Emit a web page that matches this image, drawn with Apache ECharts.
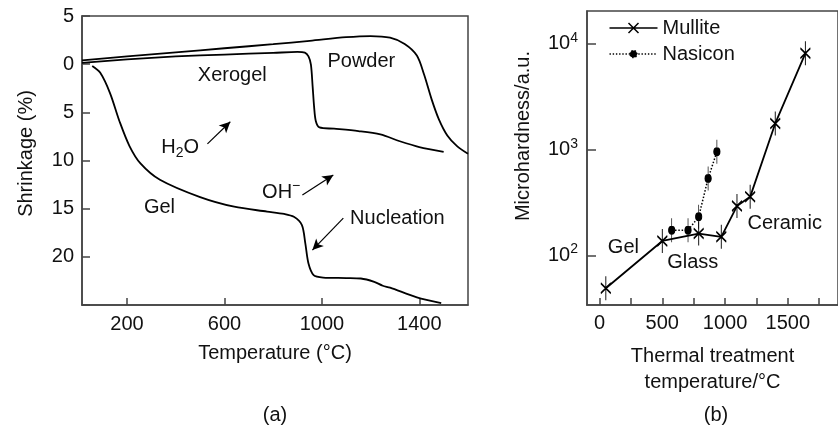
<!DOCTYPE html>
<html>
<head>
<meta charset="utf-8">
<script src="https://cdn.jsdelivr.net/npm/echarts@6/dist/echarts.min.js"></script>
<style>
  html, body { margin: 0; padding: 0; background: #fff; }
  #chart { width: 838px; height: 428px; }
</style>
</head>
<body>
<div id="chart"></div>
<script>
// (a) shrinkage curves, temperature in °C, shrinkage in % (negative = expansion)
const powderTemp = [15, 200, 400, 600, 800, 950, 1100, 1200, 1280, 1340, 1390, 1420, 1450, 1480, 1515, 1555, 1600];
const powderShrink = [-0.4, -0.8, -1.22, -1.65, -2.07, -2.42, -2.8, -2.92, -2.75, -2.1, -0.9, 1.1, 3.6, 5.7, 7.4, 8.5, 9.3];
const xerogelTemp = [15, 200, 400, 600, 800, 900, 930, 945, 955, 962, 968, 975, 990, 1050, 1150, 1240, 1320, 1400, 1500];
const xerogelShrink = [-0.13, -0.5, -0.8, -1.0, -1.17, -1.27, -1.2, -0.8, 0.05, 2.3, 4.4, 5.9, 6.57, 6.7, 6.95, 7.3, 8.0, 8.6, 9.1];
const gelTemp = [57, 90, 130, 170, 210, 255, 335, 500, 640, 775, 845, 885, 918, 932, 945, 966, 1005, 1100, 1160, 1215, 1250, 1280, 1390, 1490];
const gelShrink = [0.2, 0.9, 3.0, 6.0, 8.5, 10.3, 12.0, 13.8, 14.8, 15.3, 15.55, 15.85, 16.7, 18.6, 20.7, 21.9, 22.15, 22.2, 22.25, 22.6, 23.0, 23.2, 24.2, 24.8];
const shrinkTicks = [200, 600, 1000, 1400];

// (b) microhardness, thermal treatment temperature in °C
const mulliteTemp = [50, 500, 790, 970, 1095, 1200, 1400, 1640];
const mulliteHard = [49, 137, 161, 150, 293, 358, 1770, 8150];
const nasiconTemp = [575, 705, 790, 865, 935];
const nasiconHard = [173, 173, 232, 535, 955];
const hardLabels = [0, 500, 1000, 1500];
const hardTicks = [0, 250, 500, 750, 1000, 1250, 1500, 1750];

// annotations: text, x, y in data units
const shrinkNotes = [
  ["Xerogel", 632, 1.2], ["Powder", 1162, -0.3], ["H{sub|2}O", 418, 8.7],
  ["OH{sup|−}", 833, 13.3], ["Gel", 333, 14.9], ["Nucleation", 1310, 16.0]
];
const shrinkArrows = [
  [[530, 8.27], [624, 5.98]],
  [[920, 13.58], [1047, 11.5]],
  [[1088, 15.98], [961, 19.3]]
];
const hardNotes = [["Gel", 190, 120], ["Glass", 743, 86.5], ["Ceramic", 1475, 202]];

const zip = (xs, ys) => xs.map((x, i) => [x, ys[i]]);
const FONT = "'Liberation Sans', Arial, sans-serif";
const INK = "#111";
const FRAME = "#444";
const text = { fontFamily: FONT, fontSize: 20, color: INK };
const rich = {
  sub: { fontFamily: FONT, fontSize: 14, color: INK, padding: [10, 0, 0, 0] },
  sup: { fontFamily: FONT, fontSize: 14, color: INK, padding: [0, 0, 12, 0] }
};
const axisLine = { show: true, onZero: false, lineStyle: { color: FRAME, width: 1.5 } };
const tick = len => ({ show: true, inside: true, length: len, lineStyle: { color: FRAME, width: 1.5 } });

const notePoints = notes => ({
  silent: true,
  symbol: "circle",
  symbolSize: 0,
  label: { show: true, position: "inside", ...text, rich, formatter: p => p.name },
  data: notes.map(([name, x, y]) => ({ name, coord: [x, y] }))
});

const chart = echarts.init(document.getElementById("chart"));
chart.setOption({
  animation: false,
  textStyle: { fontFamily: FONT },
  grid: [
    { left: 82, top: 16, width: 386, height: 289, show: true, borderColor: FRAME, borderWidth: 1.5 },
    { left: 587, top: 11, width: 260, height: 294, show: true, borderColor: FRAME, borderWidth: 1.5 }
  ],
  legend: {
    left: 607, top: 18, padding: 0, orient: "vertical", align: "left",
    itemWidth: 48, itemHeight: 10, itemGap: 6, symbolKeepAspect: true,
    textStyle: text,
    data: [
      {
        name: "Mullite",
        icon: "path://M0,5L48,5M19,0L29,10M29,0L19,10",
        itemStyle: { color: "none", borderColor: "#000", borderWidth: 1.5 }
      },
      {
        name: "Nasicon",
        icon: "path://M0,5L48,5M20.5,5A3.5,3.5,0,1,1,27.5,5A3.5,3.5,0,1,1,20.5,5Z",
        itemStyle: { color: "#000", borderColor: "#000", borderWidth: 1.4, borderType: [1.4, 1.8] }
      }
    ]
  },
  xAxis: [
    {
      type: "value", gridIndex: 0, min: 15, max: 1600,
      name: "Temperature (°C)", nameLocation: "middle", nameGap: 38, nameTextStyle: text,
      axisLine, axisTick: { ...tick(7), customValues: shrinkTicks },
      axisLabel: { ...text, margin: 9, customValues: shrinkTicks, formatter: v => String(v) },
      splitLine: { show: false }
    },
    {
      type: "value", gridIndex: 1, min: -100, max: 1900,
      name: "Thermal treatment\ntemperature/°C", nameLocation: "middle", nameGap: 38,
      nameTextStyle: { ...text, lineHeight: 26 },
      axisLine, axisTick: { ...tick(7), customValues: hardTicks },
      axisLabel: { ...text, margin: 8, customValues: hardLabels, formatter: v => String(v) },
      splitLine: { show: false }
    }
  ],
  yAxis: [
    {
      type: "value", gridIndex: 0, inverse: true, min: -5, max: 25, interval: 5,
      name: "Shrinkage (%)", nameLocation: "middle", nameGap: 46,
      nameTextStyle: { ...text, padding: [0, 0, 0, 14] },
      axisLine, axisTick: tick(8),
      axisLabel: { ...text, margin: 8, formatter: v => (v === 25 ? "" : String(Math.abs(v))) },
      splitLine: { show: false }
    },
    {
      type: "log", gridIndex: 1, logBase: 10, min: 34, max: 20460,
      name: "Microhardness/a.u.", nameLocation: "middle", nameGap: 54,
      nameTextStyle: { ...text, padding: [0, 0, 0, 44] },
      axisLine, axisTick: tick(9),
      axisLabel: {
        ...text, margin: 9, showMinLabel: false, showMaxLabel: false, rich,
        formatter: v => "10{sup|" + Math.round(Math.log10(v)) + "}"
      },
      minorTick: { show: false },
      splitLine: { show: false }
    }
  ],
  series: [
    {
      name: "Powder", type: "line", xAxisIndex: 0, yAxisIndex: 0,
      data: zip(powderTemp, powderShrink), smooth: 0.3, showSymbol: false,
      lineStyle: { color: "#000", width: 1.8 }
    },
    {
      name: "Xerogel", type: "line", xAxisIndex: 0, yAxisIndex: 0,
      data: zip(xerogelTemp, xerogelShrink), smooth: 0.3, showSymbol: false,
      lineStyle: { color: "#000", width: 1.8 }
    },
    {
      name: "Gel", type: "line", xAxisIndex: 0, yAxisIndex: 0,
      data: zip(gelTemp, gelShrink), smooth: 0.3, showSymbol: false,
      lineStyle: { color: "#000", width: 1.8 },
      markPoint: notePoints(shrinkNotes),
      markLine: {
        silent: true, symbol: ["none", "arrow"], symbolSize: [8, 11],
        lineStyle: { color: "#000", width: 1.2, type: "solid" },
        label: { show: false },
        data: shrinkArrows.map(([a, b]) => [{ coord: a }, { coord: b }])
      }
    },
    {
      name: "Mullite", type: "line", xAxisIndex: 1, yAxisIndex: 1,
      data: zip(mulliteTemp, mulliteHard),
      symbol: "path://M-5,-5L5,5M5,-5L-5,5M0,-12L0,12", symbolSize: [10, 24],
      itemStyle: { color: "none", borderColor: "#000", borderWidth: 1.4 },
      lineStyle: { color: "#000", width: 1.8 },
      markPoint: notePoints(hardNotes)
    },
    {
      name: "Nasicon", type: "line", xAxisIndex: 1, yAxisIndex: 1,
      data: zip(nasiconTemp, nasiconHard),
      symbol: "path://M0,-12L0,12M-3.2,0A3.2,3.2,0,1,1,3.2,0A3.2,3.2,0,1,1,-3.2,0Z", symbolSize: [6.4, 24],
      itemStyle: { color: "#000", borderColor: "#000", borderWidth: 1.3 },
      lineStyle: { color: "#000", width: 1.5, type: [1.5, 1.8] }
    }
  ],
  graphic: [
    { type: "text", x: 275, y: 415, style: { text: "(a)", fontFamily: FONT, fontSize: 20, fill: INK, align: "center", verticalAlign: "middle" } },
    { type: "text", x: 716, y: 415, style: { text: "(b)", fontFamily: FONT, fontSize: 20, fill: INK, align: "center", verticalAlign: "middle" } }
  ]
});
</script>
</body>
</html>
